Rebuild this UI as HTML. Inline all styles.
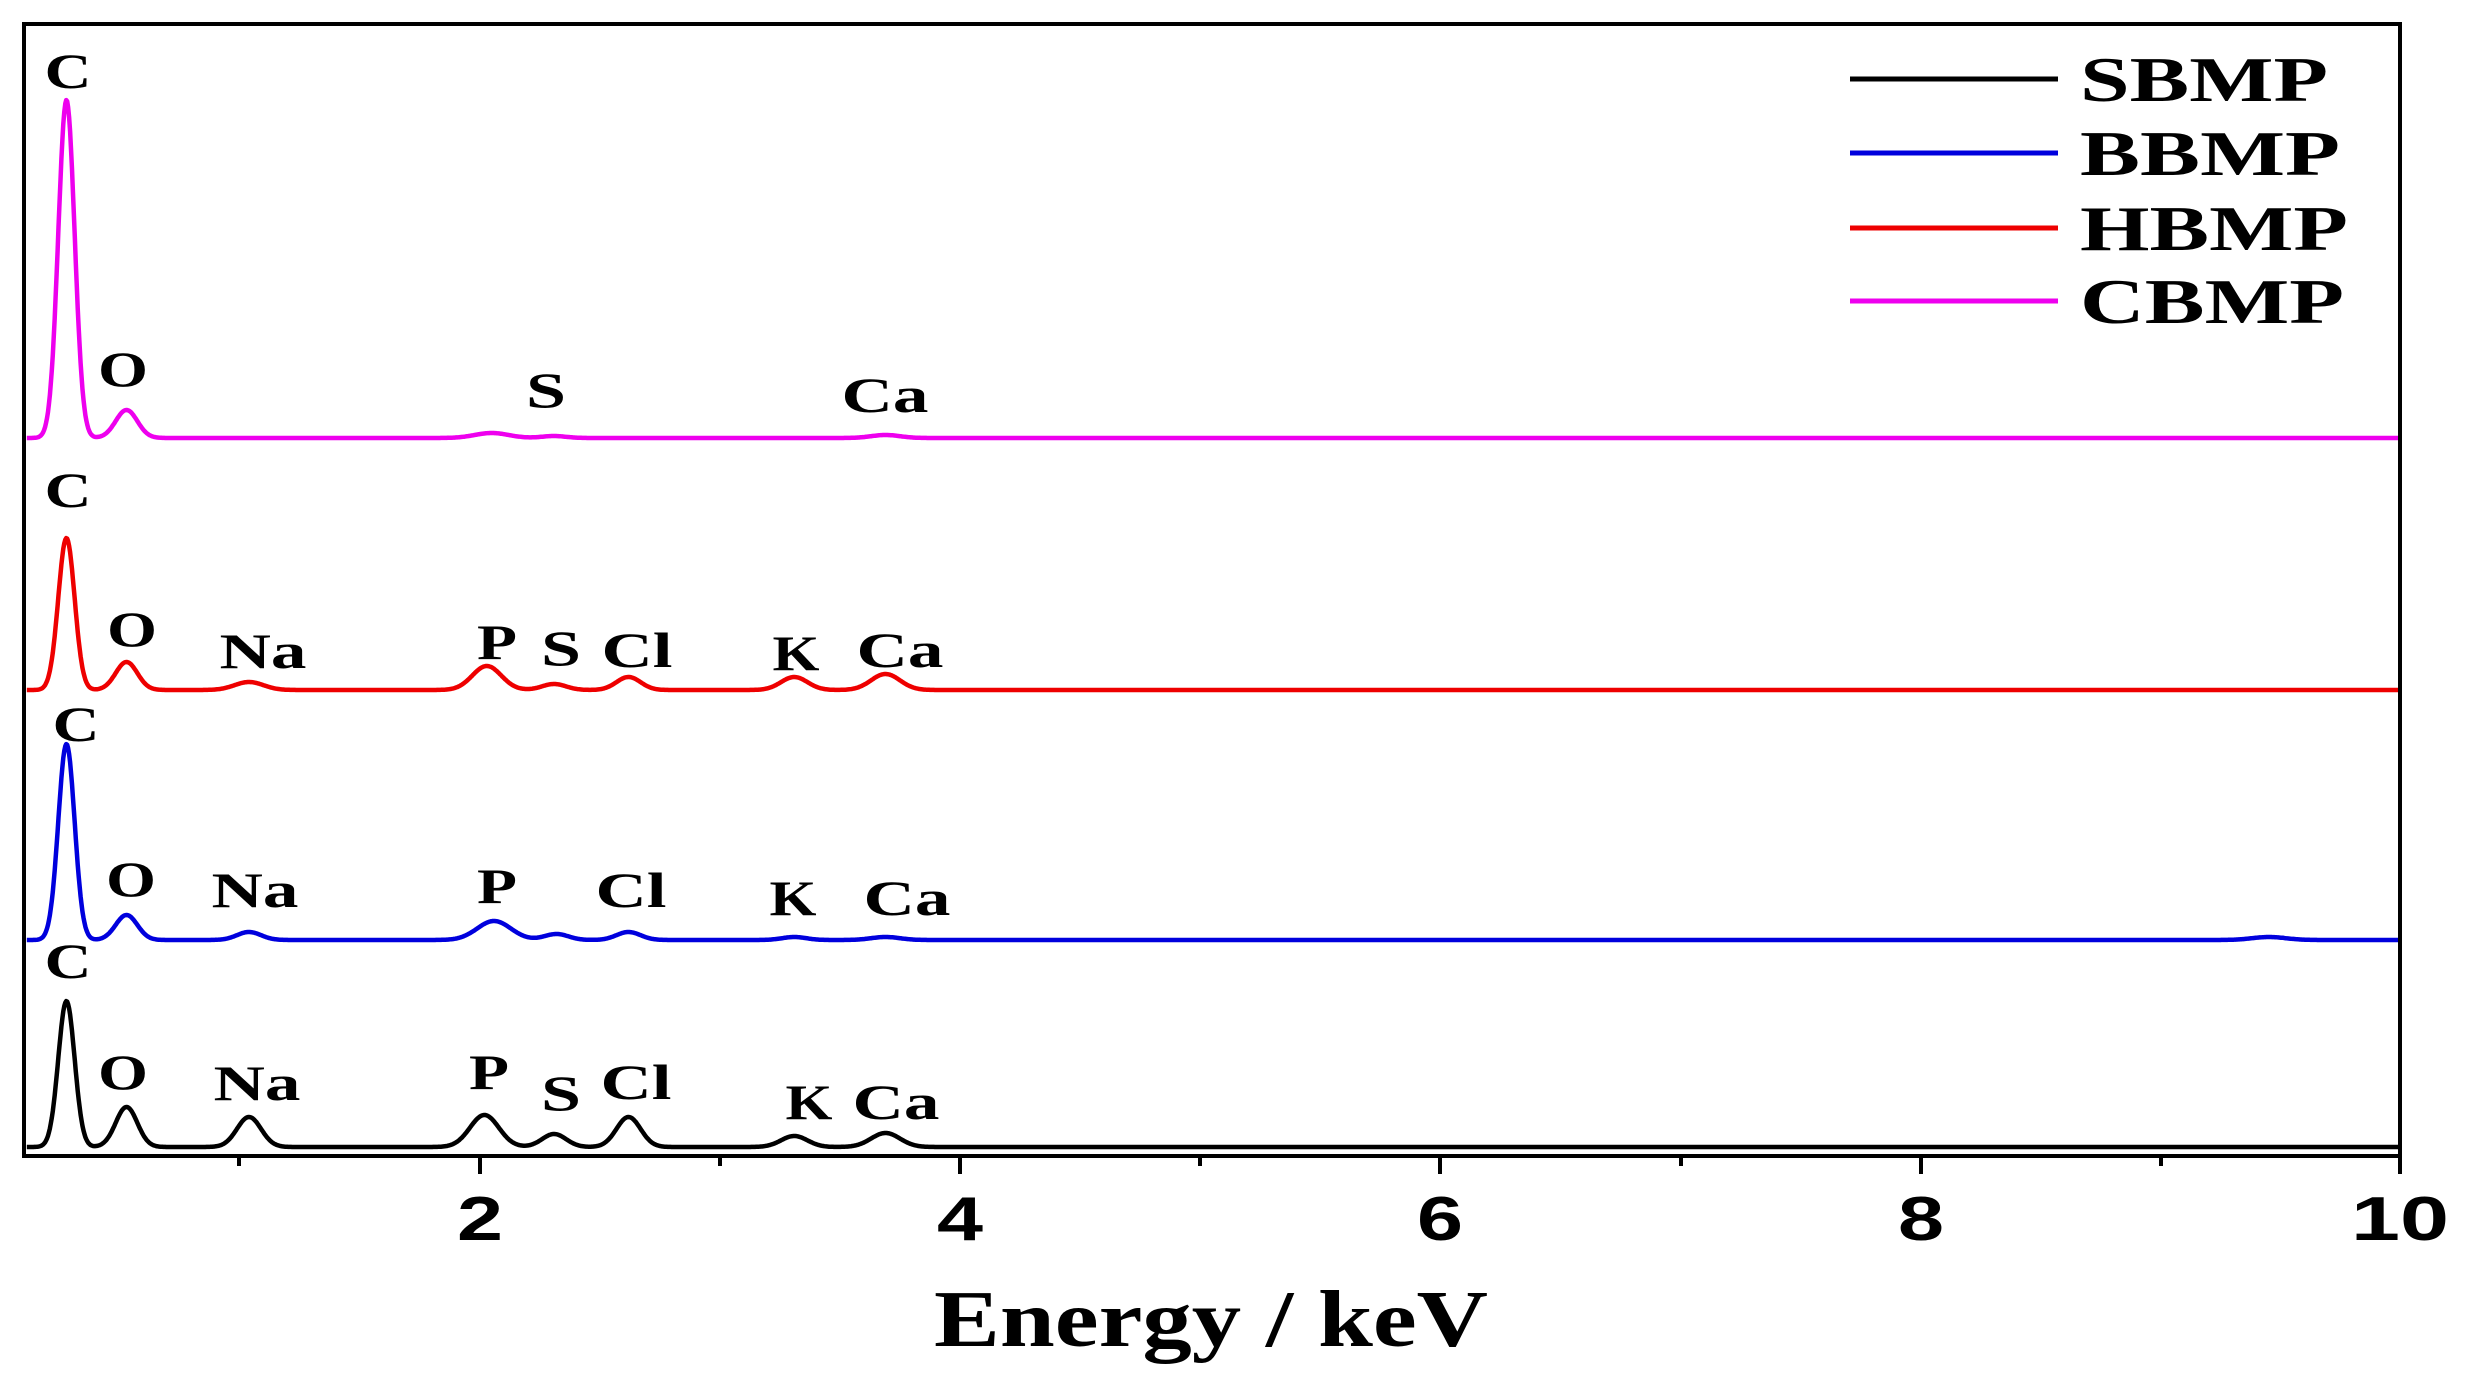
<!DOCTYPE html>
<html><head><meta charset="utf-8"><style>
html,body{margin:0;padding:0;background:#fff;}
svg{display:block;}
.lb{font-family:"Liberation Serif",serif;font-weight:bold;font-size:50px;fill:#000;text-anchor:middle;}
.lg{font-family:"Liberation Serif",serif;font-weight:bold;font-size:64px;fill:#000;}
.tk{font-family:"Liberation Sans",sans-serif;font-weight:bold;font-size:62px;fill:#000;text-anchor:middle;}
</style></head><body>
<svg id="s" width="2471" height="1380" viewBox="0 0 2471 1380" xmlns="http://www.w3.org/2000/svg">
<g id="series"></g>
<rect x="24" y="24" width="2376" height="1132" fill="none" stroke="#000" stroke-width="4"/>
<g stroke="#000" stroke-width="4">
<line x1="239" y1="1156" x2="239" y2="1166"/><line x1="480" y1="1156" x2="480" y2="1174"/>
<line x1="720" y1="1156" x2="720" y2="1166"/><line x1="960" y1="1156" x2="960" y2="1174"/>
<line x1="1200" y1="1156" x2="1200" y2="1166"/><line x1="1440" y1="1156" x2="1440" y2="1174"/>
<line x1="1681" y1="1156" x2="1681" y2="1166"/><line x1="1921" y1="1156" x2="1921" y2="1174"/>
<line x1="2161" y1="1156" x2="2161" y2="1166"/><line x1="2400" y1="1156" x2="2400" y2="1174"/>
</g>
<text class="tk" x="480" y="1240" textLength="46" lengthAdjust="spacingAndGlyphs">2</text>
<text class="tk" x="960" y="1240" textLength="46" lengthAdjust="spacingAndGlyphs">4</text>
<text class="tk" x="1440" y="1240" textLength="46" lengthAdjust="spacingAndGlyphs">6</text>
<text class="tk" x="1921" y="1240" textLength="46" lengthAdjust="spacingAndGlyphs">8</text>
<text class="tk" x="2400" y="1240" textLength="98" lengthAdjust="spacingAndGlyphs">10</text>
<text x="1211" y="1346" font-family="Liberation Serif,serif" font-weight="bold" font-size="80" text-anchor="middle" textLength="554" lengthAdjust="spacingAndGlyphs">Energy / keV</text>
<g stroke-width="5">
<line x1="1850" y1="79" x2="2058" y2="79" stroke="#000"/>
<line x1="1850" y1="153" x2="2058" y2="153" stroke="#0000dd"/>
<line x1="1850" y1="228" x2="2058" y2="228" stroke="#ee0000"/>
<line x1="1850" y1="301" x2="2058" y2="301" stroke="#ee00ee"/>
</g>
<text class="lg" x="2080" y="101" textLength="248" lengthAdjust="spacingAndGlyphs">SBMP</text>
<text class="lg" x="2080" y="175" textLength="260" lengthAdjust="spacingAndGlyphs">BBMP</text>
<text class="lg" x="2080" y="250" textLength="268" lengthAdjust="spacingAndGlyphs">HBMP</text>
<text class="lg" x="2080" y="323" textLength="264" lengthAdjust="spacingAndGlyphs">CBMP</text>
<g>
<text class="lb" x="68" y="88" textLength="47" lengthAdjust="spacingAndGlyphs">C</text><text class="lb" x="123" y="386" textLength="50" lengthAdjust="spacingAndGlyphs">O</text><text class="lb" x="546" y="407" textLength="40" lengthAdjust="spacingAndGlyphs">S</text><text class="lb" x="885" y="412" textLength="87" lengthAdjust="spacingAndGlyphs">Ca</text>
<text class="lb" x="68" y="507" textLength="47" lengthAdjust="spacingAndGlyphs">C</text><text class="lb" x="132" y="646" textLength="50" lengthAdjust="spacingAndGlyphs">O</text><text class="lb" x="263" y="668" textLength="87" lengthAdjust="spacingAndGlyphs">Na</text><text class="lb" x="497" y="659" textLength="40" lengthAdjust="spacingAndGlyphs">P</text><text class="lb" x="561" y="665" textLength="40" lengthAdjust="spacingAndGlyphs">S</text><text class="lb" x="637" y="667" textLength="71" lengthAdjust="spacingAndGlyphs">Cl</text><text class="lb" x="796" y="670" textLength="47" lengthAdjust="spacingAndGlyphs">K</text><text class="lb" x="900" y="667" textLength="87" lengthAdjust="spacingAndGlyphs">Ca</text>
<text class="lb" x="76" y="741" textLength="47" lengthAdjust="spacingAndGlyphs">C</text><text class="lb" x="131" y="896" textLength="50" lengthAdjust="spacingAndGlyphs">O</text><text class="lb" x="255" y="907" textLength="87" lengthAdjust="spacingAndGlyphs">Na</text><text class="lb" x="497" y="903" textLength="40" lengthAdjust="spacingAndGlyphs">P</text><text class="lb" x="631" y="907" textLength="71" lengthAdjust="spacingAndGlyphs">Cl</text><text class="lb" x="793" y="915" textLength="47" lengthAdjust="spacingAndGlyphs">K</text><text class="lb" x="907" y="915" textLength="87" lengthAdjust="spacingAndGlyphs">Ca</text>
<text class="lb" x="68" y="978" textLength="47" lengthAdjust="spacingAndGlyphs">C</text><text class="lb" x="123" y="1089" textLength="50" lengthAdjust="spacingAndGlyphs">O</text><text class="lb" x="257" y="1100" textLength="87" lengthAdjust="spacingAndGlyphs">Na</text><text class="lb" x="489" y="1089" textLength="40" lengthAdjust="spacingAndGlyphs">P</text><text class="lb" x="561" y="1110" textLength="40" lengthAdjust="spacingAndGlyphs">S</text><text class="lb" x="636" y="1099" textLength="71" lengthAdjust="spacingAndGlyphs">Cl</text><text class="lb" x="809" y="1119" textLength="47" lengthAdjust="spacingAndGlyphs">K</text><text class="lb" x="896" y="1119" textLength="87" lengthAdjust="spacingAndGlyphs">Ca</text>
</g>
</svg>
<script>
(function(){
var S=[
 {c:"#ee00ee",y0:438,p:[[0.28,338,0.034],[0.53,28,0.045],[2.05,5,0.07],[2.31,2,0.05],[3.69,3,0.06]]},
 {c:"#ee0000",y0:690,p:[[0.28,152,0.034],[0.53,28,0.045],[1.04,8,0.06],[2.03,24,0.06],[2.31,6,0.05],[2.62,13,0.05],[3.31,13,0.055],[3.69,16,0.06]]},
 {c:"#0000dd",y0:940,p:[[0.28,196,0.034],[0.53,25,0.045],[1.04,8,0.05],[2.06,19,0.07],[2.32,6,0.05],[2.62,8,0.05],[3.31,3,0.05],[3.69,3,0.06],[9.45,3,0.07]]},
 {c:"#000000",y0:1147,p:[[0.28,146,0.034],[0.53,40,0.045],[1.04,30,0.05],[2.02,32,0.06],[2.31,13,0.05],[2.62,30,0.05],[3.31,11,0.055],[3.69,14,0.06]]}
];
var g=document.getElementById("series"),h="";
S.forEach(function(s){
 var d="";
 for(var E=0.115;E<=9.99;E+=0.004){
  var y=s.y0;
  s.p.forEach(function(q){y-=q[1]*Math.exp(-Math.pow(E-q[0],2)/(2*q[2]*q[2]));});
  var x=-0.8+240.2*E;
  d+=(d?"L":"M")+x.toFixed(1)+" "+y.toFixed(1);
 }
 h+='<path d="'+d+'" fill="none" stroke="'+s.c+'" stroke-width="4.5" stroke-linejoin="round"/>';
});
g.innerHTML=h;
})();
</script>
</body></html>
